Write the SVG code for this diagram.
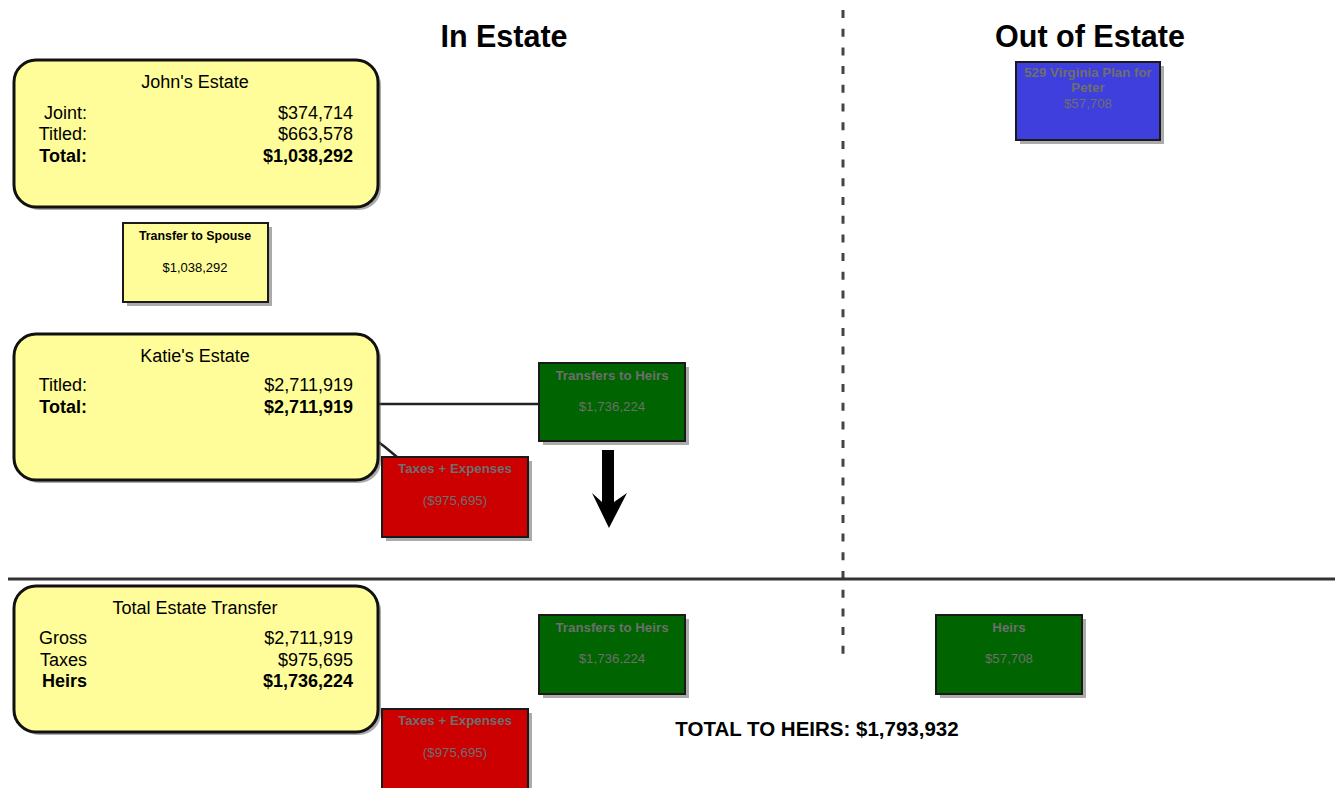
<svg xmlns="http://www.w3.org/2000/svg" width="1335" height="788" viewBox="0 0 1335 788">
<defs>
<style>
text{font-family:"Liberation Sans",Arial,sans-serif}
.hdr{font-size:30.5px;font-weight:bold;fill:#000;text-anchor:middle}
.est{fill:#FFFD99;stroke:#111;stroke-width:3}
.sh{fill:#666;opacity:0.55}
.bx{stroke:#1a1a1a;stroke-width:2}
.t18{font-size:18px;fill:#000}
.b{font-weight:bold}
.r{text-anchor:end}
.c{text-anchor:middle}
.bt{font-size:13.3px;font-weight:bold;fill:#6e6e6e;text-anchor:middle}
.bv{font-size:13.3px;fill:#6e6e6e;text-anchor:middle}
.green{fill:#006400}
.red{fill:#CC0000}
.blue{fill:#3F3FDD}
</style>
</defs>
<rect width="1335" height="788" fill="#fff"/>
<text class="hdr" x="504" y="47">In Estate</text>
<text class="hdr" x="1090" y="47">Out of Estate</text>
<g id="dividers">
<line x1="843" y1="10" x2="843" y2="662" stroke="#444" stroke-width="3" stroke-dasharray="8 10.7"/>
<line x1="8" y1="579" x2="1335" y2="579" stroke="#333" stroke-width="3"/>
</g>
<g id="connectors" fill="none" stroke="#222" stroke-width="2.5">
<line x1="378" y1="404" x2="539" y2="404"/>
<polyline points="377,441 385,447 397,457"/>
<g id="arrow" stroke="none" fill="#000">
<polygon points="602,450 614,450 614,502 627,493 609,528 592,493 602,502"/>
</g>
</g>
<g id="johns-estate">
<rect class="sh" x="17" y="63" width="364" height="147" rx="22"/>
<rect class="est" x="14" y="60" width="364" height="147" rx="22"/>
<text class="t18 c" x="195" y="88">John's Estate</text>
<text class="t18 r" x="87" y="119">Joint:</text>
<text class="t18 r" x="353" y="119">$374,714</text>
<text class="t18 r" x="87" y="140">Titled:</text>
<text class="t18 r" x="353" y="140">$663,578</text>
<text class="t18 r b" x="87" y="162">Total:</text>
<text class="t18 r b" x="353" y="162">$1,038,292</text>
</g>
<g id="transfer-to-spouse">
<rect class="sh" x="127" y="227" width="145" height="79"/>
<rect x="123" y="223" width="145" height="79" fill="#FFFD99" class="bx"/>
<text x="195" y="240" style="font-size:12.4px;font-weight:bold;fill:#000" text-anchor="middle">Transfer to Spouse</text>
<text x="195" y="272" style="font-size:13px;fill:#000" text-anchor="middle">$1,038,292</text>
</g>
<g id="katies-estate">
<rect class="sh" x="17" y="337" width="364" height="146" rx="22"/>
<rect class="est" x="14" y="334" width="364" height="146" rx="22"/>
<text class="t18 c" x="195" y="362">Katie's Estate</text>
<text class="t18 r" x="87" y="391">Titled:</text>
<text class="t18 r" x="353" y="391">$2,711,919</text>
<text class="t18 r b" x="87" y="413">Total:</text>
<text class="t18 r b" x="353" y="413">$2,711,919</text>
</g>
<g id="transfers-to-heirs-1">
<rect class="sh" x="543" y="367" width="146" height="78"/>
<rect class="green bx" x="539" y="363" width="146" height="78"/>
<text class="bt" x="612" y="380">Transfers to Heirs</text>
<text class="bv" x="612" y="411">$1,736,224</text>
</g>
<g id="taxes-expenses-1">
<rect class="sh" x="386" y="461" width="146" height="80"/>
<rect class="red bx" x="382" y="457" width="146" height="80"/>
<text class="bt" x="455" y="473">Taxes + Expenses</text>
<text class="bv" x="455" y="505">($975,695)</text>
</g>
<g id="virginia-plan">
<rect class="sh" x="1020" y="66" width="144" height="78"/>
<rect class="blue bx" x="1016" y="62" width="144" height="78"/>
<text class="bt" x="1088" y="77">529 Virginia Plan for</text>
<text class="bt" x="1088" y="92">Peter</text>
<text class="bv" x="1088" y="108">$57,708</text>
</g>
<g id="total-estate-transfer">
<rect class="sh" x="17" y="589" width="364" height="146" rx="22"/>
<rect class="est" x="14" y="586" width="364" height="146" rx="22"/>
<text class="t18 c" x="195" y="614">Total Estate Transfer</text>
<text class="t18 r" x="87" y="644">Gross</text>
<text class="t18 r" x="353" y="644">$2,711,919</text>
<text class="t18 r" x="87" y="666">Taxes</text>
<text class="t18 r" x="353" y="666">$975,695</text>
<text class="t18 r b" x="87" y="687">Heirs</text>
<text class="t18 r b" x="353" y="687">$1,736,224</text>
</g>
<g id="transfers-to-heirs-2">
<rect class="sh" x="543" y="619" width="146" height="79"/>
<rect class="green bx" x="539" y="615" width="146" height="79"/>
<text class="bt" x="612" y="632">Transfers to Heirs</text>
<text class="bv" x="612" y="663">$1,736,224</text>
</g>
<g id="heirs">
<rect class="sh" x="940" y="619" width="146" height="79"/>
<rect class="green bx" x="936" y="615" width="146" height="79"/>
<text class="bt" x="1009" y="632">Heirs</text>
<text class="bv" x="1009" y="663">$57,708</text>
</g>
<g id="taxes-expenses-2">
<rect class="sh" x="386" y="713" width="146" height="80"/>
<rect class="red bx" x="382" y="709" width="146" height="80"/>
<text class="bt" x="455" y="725">Taxes + Expenses</text>
<text class="bv" x="455" y="757">($975,695)</text>
</g>
<g id="total-to-heirs">
<text x="817" y="736" style="font-size:20.5px;font-weight:bold;fill:#000" text-anchor="middle">TOTAL TO HEIRS: $1,793,932</text>
</g>
</svg>
